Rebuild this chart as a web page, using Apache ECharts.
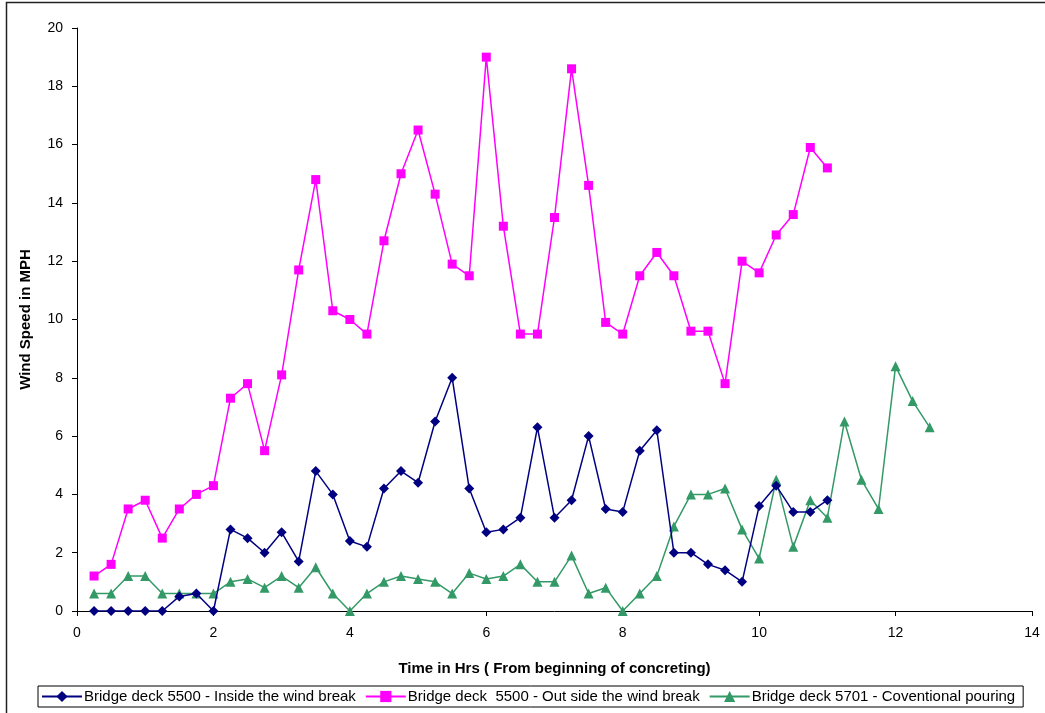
<!DOCTYPE html>
<html>
<head>
<meta charset="utf-8">
<script src="https://cdn.jsdelivr.net/npm/echarts@6/dist/echarts.min.js"></script>
<style>
  html, body { margin: 0; padding: 0; background: #fff; }
  #chart { width: 1045px; height: 713px; }
</style>
</head>
<body>
<div id="chart"></div>
<script>
// Time axis (hours from start of pour), 15-minute readings
const hoursA = [0.25,0.5,0.75,1,1.25,1.5,1.75,2,2.25,2.5,2.75,3,3.25,3.5,3.75,4,4.25,4.5,4.75,5,5.25,5.5,5.75,6,6.25,6.5,6.75,7,7.25,7.5,7.75,8,8.25,8.5,8.75,9,9.25,9.5,9.75,10,10.25,10.5,10.75,11];
const hoursB = [0.25,0.5,0.75,1,1.25,1.5,1.75,2,2.25,2.5,2.75,3,3.25,3.5,3.75,4,4.25,4.5,4.75,5,5.25,5.5,5.75,6,6.25,6.5,6.75,7,7.25,7.5,7.75,8,8.25,8.5,8.75,9,9.25,9.5,9.75,10,10.25,10.5,10.75,11,11.25,11.5,11.75,12,12.25,12.5];

// Wind speed (MPH)
const insideBreak = [0,0,0,0,0,0.5,0.6,0,2.8,2.5,2.0,2.7,1.7,4.8,4.0,2.4,2.2,4.2,4.8,4.4,6.5,8.0,4.2,2.7,2.8,3.2,6.3,3.2,3.8,6.0,3.5,3.4,5.5,6.2,2.0,2.0,1.6,1.4,1.0,3.6,4.3,3.4,3.4,3.8];
const outsideBreak = [1.2,1.6,3.5,3.8,2.5,3.5,4.0,4.3,7.3,7.8,5.5,8.1,11.7,14.8,10.3,10.0,9.5,12.7,15.0,16.5,14.3,11.9,11.5,19.0,13.2,9.5,9.5,13.5,18.6,14.6,9.9,9.5,11.5,12.3,11.5,9.6,9.6,7.8,12.0,11.6,12.9,13.6,15.9,15.2];
const conventional = [0.6,0.6,1.2,1.2,0.6,0.6,0.6,0.6,1.0,1.1,0.8,1.2,0.8,1.5,0.6,0,0.6,1.0,1.2,1.1,1.0,0.6,1.3,1.1,1.2,1.6,1.0,1.0,1.9,0.6,0.8,0,0.6,1.2,2.9,4.0,4.0,4.2,2.8,1.8,4.5,2.2,3.8,3.2,6.5,4.5,3.5,8.4,7.2,6.3];

const seriesNames = [
  'Bridge deck 5500 - Inside the wind break',
  'Bridge deck  5500 - Out side the wind break',
  'Bridge deck 5701 - Coventional pouring'
];

const pair = (xs, ys) => ys.map((y, i) => [xs[i], y]);
const font = 'Liberation Sans, Arial, sans-serif';

const chart = echarts.init(document.getElementById('chart'), null, { renderer: 'canvas' });
chart.setOption({
  animation: false,
  backgroundColor: '#ffffff',
  textStyle: { fontFamily: font },
  graphic: [{
    type: 'rect',
    shape: { x: 6.5, y: 2.5, width: 1100, height: 800 },
    style: { fill: 'none', stroke: '#222', lineWidth: 1.5 },
    silent: true
  }],
  grid: { left: 77, right: 13, top: 28, bottom: 102 },
  xAxis: {
    type: 'value', min: 0, max: 14, interval: 2,
    name: 'Time in Hrs ( From beginning of concreting)',
    nameLocation: 'middle', nameGap: 50,
    nameTextStyle: { fontSize: 15, fontWeight: 'bold', color: '#000', fontFamily: font },
    axisLine: { lineStyle: { color: '#000', width: 1 } },
    axisTick: { show: true, inside: false, length: 5, lineStyle: { color: '#000' } },
    axisLabel: { fontSize: 14, color: '#000', margin: 15, fontFamily: font },
    splitLine: { show: false }
  },
  yAxis: {
    type: 'value', min: 0, max: 20, interval: 2,
    name: 'Wind Speed in MPH',
    nameLocation: 'middle', nameGap: 44, nameRotate: 90,
    nameTextStyle: { fontSize: 15, fontWeight: 'bold', color: '#000', fontFamily: font },
    axisLine: { show: true, lineStyle: { color: '#000', width: 1 } },
    axisTick: { show: true, inside: false, length: 5, lineStyle: { color: '#000' } },
    axisLabel: { fontSize: 14, color: '#000', margin: 14, fontFamily: font },
    splitLine: { show: false }
  },
  legend: {
    left: 38, top: 686, width: 986,
    orient: 'horizontal',
    borderColor: '#000', borderWidth: 1,
    padding: [3, 8, 3, 3],
    itemWidth: 40, itemHeight: 14, itemGap: 9,
    textStyle: { fontSize: 15, color: '#000', fontFamily: font, padding: [0, 0, 0, -3] },
    data: seriesNames.map(n => ({ name: n }))
  },
  series: [
    {
      name: seriesNames[0], type: 'line', data: pair(hoursA, insideBreak),
      symbol: 'diamond', symbolSize: 10,
      itemStyle: { color: '#000080' },
      lineStyle: { color: '#000080', width: 1.5 }, z: 3
    },
    {
      name: seriesNames[1], type: 'line', data: pair(hoursA, outsideBreak),
      symbol: 'rect', symbolSize: 9,
      itemStyle: { color: '#ff00ff' },
      lineStyle: { color: '#ff00ff', width: 1.5 }, z: 2
    },
    {
      name: seriesNames[2], type: 'line', data: pair(hoursB, conventional),
      symbol: 'triangle', symbolSize: 10,
      itemStyle: { color: '#339966' },
      lineStyle: { color: '#339966', width: 1.5 }, z: 2
    }
  ]
});
</script>
</body>
</html>
